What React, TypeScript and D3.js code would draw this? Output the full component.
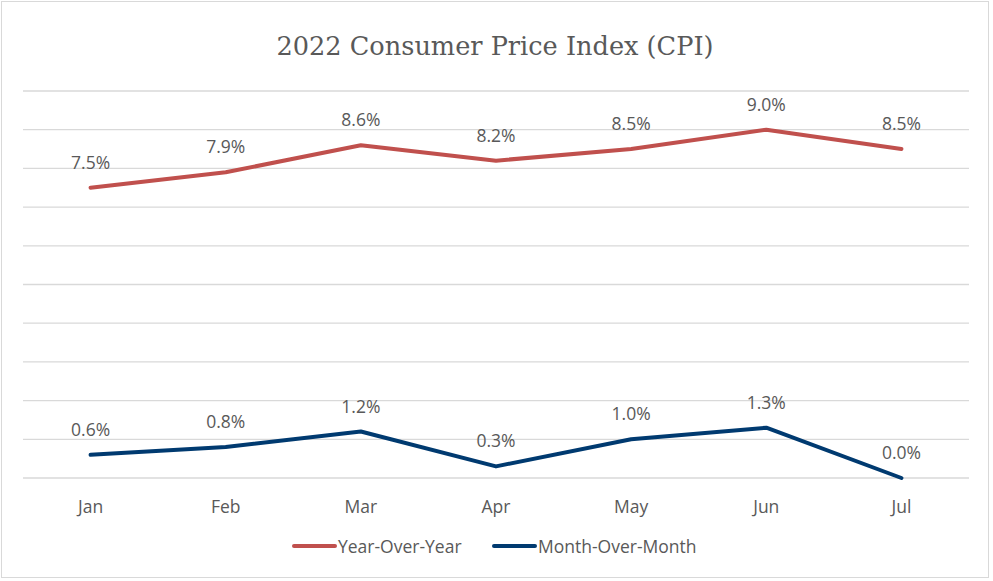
import React from 'react';
import * as d3 from 'd3';

const months = ['Jan', 'Feb', 'Mar', 'Apr', 'May', 'Jun', 'Jul'];
const yearOverYear = [7.5, 7.9, 8.6, 8.2, 8.5, 9.0, 8.5];
const monthOverMonth = [0.6, 0.8, 1.2, 0.3, 1.0, 1.3, 0.0];
const yTicks = [0, 1, 2, 3, 4, 5, 6, 7, 8, 9, 10];

const W = 993;
const H = 581;
const margin = { top: 91, right: 24, bottom: 103, left: 23 };
const labelFont = '"Open Sans", "Noto Sans", sans-serif';

const series = [
  { name: 'Year-Over-Year', values: yearOverYear, color: '#C0504D' },
  { name: 'Month-Over-Month', values: monthOverMonth, color: '#003A70' },
];

export default function App() {
  const x = d3.scaleBand<string>().domain(months).range([margin.left, W - margin.right]);
  const y = d3.scaleLinear().domain([0, 10]).range([H - margin.bottom, margin.top]);
  const cx = (m: string) => (x(m) ?? 0) + x.bandwidth() / 2;

  const line = d3.line<number>()
    .x((_, i) => cx(months[i]))
    .y(d => y(d));

  const legendX = [294, 494];

  return (
    <div style={{ position: 'fixed', left: 0, top: 0 }}>
      <svg width={W} height={H} style={{ display: 'block', background: '#fff' }}>
        <rect x={1.5} y={1.5} width={W - 6} height={H - 5} fill="#fff" stroke="#d9d9d9" strokeWidth={1} />
        <text x={495} y={55} textAnchor="middle" fill="#595959"
          style={{ fontFamily: '"DejaVu Serif", "Liberation Serif", serif', fontSize: 25.6 }}>
          2022 Consumer Price Index (CPI)
        </text>

        {yTicks.map(t => (
          <line key={t} x1={margin.left} x2={W - margin.right} y1={y(t)} y2={y(t)}
            stroke="#d9d9d9" strokeWidth={1.3} />
        ))}

        {months.map(m => (
          <text key={m} x={cx(m)} y={513} textAnchor="middle" fill="#595959"
            style={{ fontFamily: labelFont, fontSize: 17.5 }}>{m}</text>
        ))}

        {series.map(s => (
          <g key={s.name}>
            <path d={line(s.values) ?? ''} fill="none" stroke={s.color} strokeWidth={4}
              strokeLinecap="round" strokeLinejoin="round" />
            {s.values.map((v, i) => (
              <text key={i} x={cx(months[i])} y={y(v) - 19} textAnchor="middle" fill="#595959"
                style={{ fontFamily: labelFont, fontSize: 17.5 }}>{v.toFixed(1)}%</text>
            ))}
          </g>
        ))}

        {series.map((s, i) => (
          <g key={s.name} transform={`translate(${legendX[i]},546)`}>
            <line x1={0} x2={41} y1={0} y2={0} stroke={s.color} strokeWidth={4} strokeLinecap="round" />
            <text x={44} y={6.5} fill="#595959" style={{ fontFamily: labelFont, fontSize: 17.5 }}>{s.name}</text>
          </g>
        ))}
      </svg>
    </div>
  );
}
